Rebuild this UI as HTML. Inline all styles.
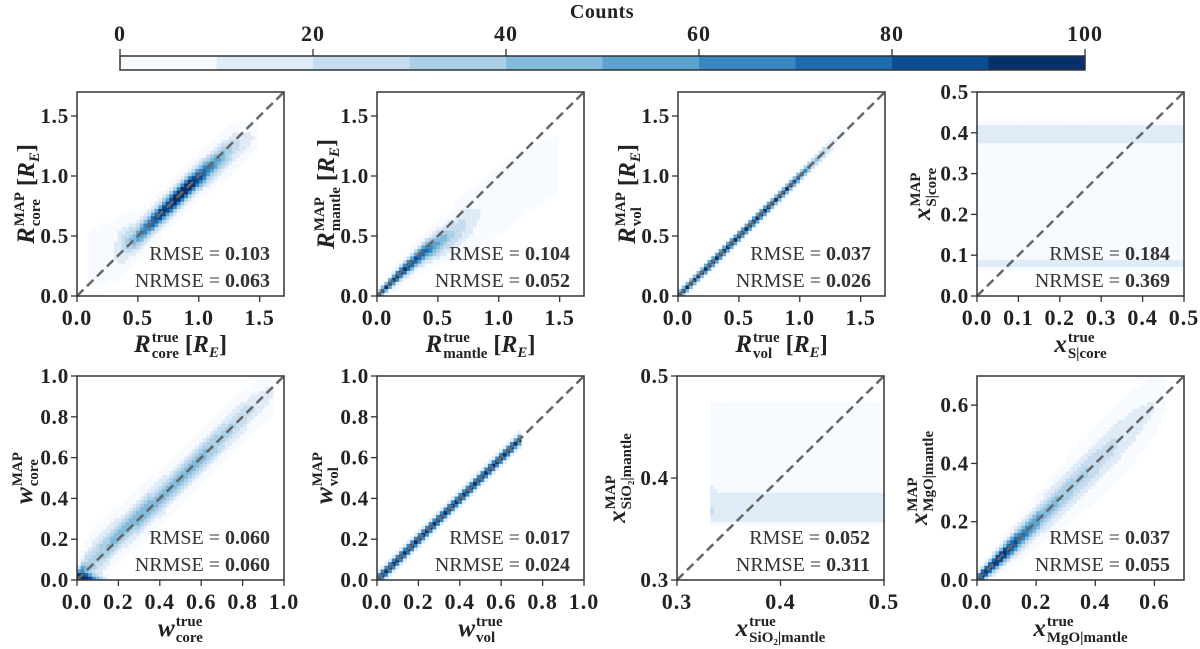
<!DOCTYPE html>
<html><head><meta charset="utf-8"><style>
html,body{margin:0;padding:0;background:#fff;}
svg{display:block;font-family:"Liberation Serif",serif;}
</style></head><body>
<svg id="fig" width="1200" height="649" viewBox="0 0 1200 649" xmlns="http://www.w3.org/2000/svg"></svg>
<script>
// ---------- data ----------
const cbTicks = [0,20,40,60,80,100];
const binColors = ["#f7fbff","#dfebf7","#c8dcf0","#abd0e6","#82bbdb","#5ba3d0","#3787c0","#1c6aaf","#0b4d94","#08306b"];

const p1Xc=[0.1,0.3,0.5,0.7,0.9,1.1,1.3,1.5];
const p1Mu=[0.3,0.38,0.5,0.7,0.9,1.08,1.25,1.35];
const p1Sd=[0.15,0.12,0.07,0.06,0.06,0.07,0.08,0.06];
const p1Pk=[4,8,55,95,110,65,25,5];

const p2Xc=[0.0,0.2,0.4,0.6,0.8,1.0,1.2,1.5];
const p2Mu=[0.0,0.2,0.38,0.5,0.65,0.8,0.95,1.1];
const p2Sd=[0.02,0.035,0.055,0.08,0.12,0.15,0.18,0.2];
const p2Pk=[100,95,75,35,12,6,3,2];

const p3Xc=[0.0,0.3,0.6,0.9,1.1,1.3,1.4];
const p3Mu=[0.0,0.3,0.6,0.9,1.1,1.3,1.4];
const p3Sd=[0.022,0.025,0.025,0.025,0.03,0.035,0.03];
const p3Pk=[110,110,110,100,50,12,2];

const p4Ys=[0.06,0.075,0.09,0.11,0.15,0.25,0.35,0.38,0.40,0.42,0.43];
const p4Ya=[0,12,10,5,4,4,5,12,15,10,0];
const p4Xs=[0.0,0.5];
const p4Xa=[1,1];

const p5Xc=[0.0,0.05,0.1,0.2,0.4,0.6,0.8,0.95];
const p5Mu=[0.01,0.05,0.12,0.22,0.4,0.6,0.8,0.93];
const p5Sd=[0.02,0.06,0.06,0.05,0.05,0.05,0.05,0.05];
const p5Pk=[100,40,35,45,50,45,28,10];
const p5FloorXc=[0.0,0.05,0.1,0.15];
const p5FloorMu=[0.01,0.01,0.01,0.01];
const p5FloorSd=[0.012,0.012,0.012,0.012];
const p5FloorPk=[90,70,40,5];

const p6Xc=[0.0,0.3,0.6,0.69,0.70];
const p6Mu=[0.0,0.3,0.6,0.69,0.70];
const p6Sd=[0.017,0.017,0.017,0.017,0.017];
const p6Pk=[110,110,110,100,40];

const p7Ys=[0.352,0.36,0.37,0.38,0.40,0.44,0.47,0.476];
const p7Ya=[0,15,17,12,6,5,4,0];
const p7Xs=[0.333,0.34,0.4,0.5];
const p7Xa=[1.3,1,1,1];

const p8Xc=[0.0,0.1,0.2,0.3,0.4,0.5,0.6,0.64];
const p8Mu=[0.0,0.1,0.2,0.3,0.4,0.5,0.6,0.64];
const p8Sd=[0.012,0.022,0.032,0.042,0.05,0.055,0.05,0.04];
const p8Pk=[110,95,55,38,28,18,10,0];

const rmseVals=["0.103","0.104","0.037","0.184","0.060","0.017","0.052","0.037"];
const nrmseVals=["0.063","0.052","0.026","0.369","0.060","0.024","0.311","0.055"];

// ---------- helpers ----------
const NS="http://www.w3.org/2000/svg";
const svg=document.getElementById('fig');
function mk(tag,attrs,parent){const e=document.createElementNS(NS,tag);for(const k in attrs)e.setAttribute(k,attrs[k]);(parent||svg).appendChild(e);return e;}
function interp(xs,ys,v){if(v<xs[0]||v>xs[xs.length-1])return null;for(let i=0;i<xs.length-1;i++){if(v>=xs[i]&&v<=xs[i+1]){const t=(v-xs[i])/((xs[i+1]-xs[i])||1);return ys[i]+t*(ys[i+1]-ys[i]);}}return ys[ys.length-1];}

// ---------- colorbar ----------
const cbX0=120,cbX1=1085,cbY=56,cbH=14;
const cbScale=v=>cbX0+(v/100)*(cbX1-cbX0);
const cbG=mk('g',{});


for(let i=0;i<10;i++){
  const r=mk('rect',{x:cbScale(i*10),y:cbY,width:cbScale((i+1)*10)-cbScale(i*10)+0.5,height:cbH,fill:binColors[i]},cbG);
  
  
}
mk('rect',{x:cbX0,y:cbY,width:cbX1-cbX0,height:cbH,fill:'none',stroke:'#333','stroke-width':1.5},cbG);
cbTicks.forEach(t=>{
  const x=cbScale(t);
  mk('line',{x1:x,x2:x,y1:cbY,y2:cbY-7,stroke:'#333','stroke-width':1.3},cbG);
  const tx=mk('text',{x:x,y:41,'text-anchor':'middle','font-size':22,'font-weight':'bold','letter-spacing':1,fill:'#222'},cbG);
  tx.textContent=t;
  
  
});
const cbT=mk('text',{x:602,y:18,'text-anchor':'middle','font-size':20,'font-weight':'bold','letter-spacing':0.5,fill:'#222'});
cbT.textContent='Counts';



// ---------- label builder ----------
function buildLabel(parent,base,sup,sub,suffix){
  const g=mk('g',{},parent);
  const b=mk('text',{x:0,y:0,'font-size':25,'font-weight':'bold','font-style':'italic',fill:'#222'},g);b.textContent=base;
  const w=b.getComputedTextLength();
  const s1=mk('text',{x:w+1,y:-10,'font-size':15,'font-weight':'bold',fill:'#222'},g);s1.textContent=sup;
  const s2=mk('text',{x:w+1,y:6,'font-size':15,'font-weight':'bold',fill:'#222'},g);s2.textContent=sub;
  let tot=w+1+Math.max(s1.getComputedTextLength(),s2.getComputedTextLength());
  if(suffix){
    const sx=tot+6;
    const t=mk('text',{x:sx,y:0,'font-size':24,'font-weight':'bold',fill:'#222'},g);
    const a=document.createElementNS(NS,'tspan');a.textContent='[';t.appendChild(a);
    const r=document.createElementNS(NS,'tspan');r.setAttribute('font-style','italic');r.textContent='R';t.appendChild(r);
    const e=document.createElementNS(NS,'tspan');e.setAttribute('font-size','15');e.setAttribute('font-style','italic');e.setAttribute('dy','5');e.textContent='E';t.appendChild(e);
    const c=document.createElementNS(NS,'tspan');c.setAttribute('dy','-5');c.textContent=']';t.appendChild(c);
    tot=sx+t.getComputedTextLength();
  }
  return {g,w:tot};
}

// ---------- panels ----------
const panels=[
 {name:'r-core',L:77,T:92,min:0,max:1.7,ticks:[0,0.5,1.0,1.5],dec:1,comps:[{t:'d',xc:p1Xc,mu:p1Mu,sd:p1Sd,pk:p1Pk}],base:'R',sub:'core',suf:true,yoff:51},
 {name:'r-mantle',L:377,T:92,min:0,max:1.7,ticks:[0,0.5,1.0,1.5],dec:1,comps:[{t:'d',xc:p2Xc,mu:p2Mu,sd:p2Sd,pk:p2Pk}],base:'R',sub:'mantle',suf:true,yoff:51},
 {name:'r-vol',L:678,T:92,min:0,max:1.7,ticks:[0,0.5,1.0,1.5],dec:1,comps:[{t:'d',xc:p3Xc,mu:p3Mu,sd:p3Sd,pk:p3Pk}],base:'R',sub:'vol',suf:true,yoff:51},
 {name:'x-s-core',L:977,T:92,min:0,max:0.5,ticks:[0,0.1,0.2,0.3,0.4,0.5],dec:1,comps:[{t:'b',ys:p4Ys,ya:p4Ya,xs:p4Xs,xa:p4Xa}],base:'x',sub:'S|core',suf:false,yoff:55},
 {name:'w-core',L:77,T:376,min:0,max:1.0,ticks:[0,0.2,0.4,0.6,0.8,1.0],dec:1,comps:[{t:'d',xc:p5Xc,mu:p5Mu,sd:p5Sd,pk:p5Pk},{t:'d',xc:p5FloorXc,mu:p5FloorMu,sd:p5FloorSd,pk:p5FloorPk}],base:'w',sub:'core',suf:false,yoff:53},
 {name:'w-vol',L:377,T:376,min:0,max:1.0,ticks:[0,0.2,0.4,0.6,0.8,1.0],dec:1,comps:[{t:'d',xc:p6Xc,mu:p6Mu,sd:p6Sd,pk:p6Pk}],base:'w',sub:'vol',suf:false,yoff:53},
 {name:'x-sio2-mantle',L:677,T:376,min:0.3,max:0.5,ticks:[0.3,0.4,0.5],dec:1,comps:[{t:'b',ys:p7Ys,ya:p7Ya,xs:p7Xs,xa:p7Xa}],base:'x',sub:'SiO₂|mantle',suf:false,yoff:60},
 {name:'x-mgo-mantle',L:977,T:376,min:0,max:0.7,ticks:[0,0.2,0.4,0.6],dec:1,comps:[{t:'d',xc:p8Xc,mu:p8Mu,sd:p8Sd,pk:p8Pk}],base:'x',sub:'MgO|mantle',suf:false,yoff:58}
];
const W=207,H=204,N=56;

panels.forEach((p,pi)=>{
  const g=mk('g',{});
  
  
  const sx=v=>p.L+(v-p.min)/(p.max-p.min)*W;
  const sy=v=>p.T+H-(v-p.min)/(p.max-p.min)*H;
  const cid='clip'+pi;
  const cp=mk('clipPath',{id:cid},g);mk('rect',{x:p.L,y:p.T,width:W,height:H},cp);
  const hg=mk('g',{'clip-path':'url(#'+cid+')'},g);
  
  
  const step=(p.max-p.min)/N;
  for(let i=0;i<N;i++){for(let j=0;j<N;j++){
    const x=p.min+(i+0.5)*step, y=p.min+(j+0.5)*step;
    let c=0;
    p.comps.forEach(cm=>{
      if(cm.t==='d'){
        const mu=interp(cm.xc,cm.mu,x); if(mu===null)return;
        const sd=interp(cm.xc,cm.sd,x), pk=interp(cm.xc,cm.pk,x);
        c+=pk*Math.exp(-0.5*Math.pow((y-mu)/sd,2));
      }else{
        const ya=interp(cm.ys,cm.ya,y), xa=interp(cm.xs,cm.xa,x);
        if(ya===null||xa===null)return; c+=ya*xa;
      }
    });
    if(c<1)continue;
    const bin=Math.min(9,Math.floor(c/10));
    const x0=sx(p.min+i*step), x1=sx(p.min+(i+1)*step), y1=sy(p.min+j*step), y0=sy(p.min+(j+1)*step);
    const r=mk('rect',{x:x0,y:y0,width:x1-x0+0.4,height:y1-y0+0.4,fill:binColors[bin]},hg);
    
    
  }}
  const dl=mk('line',{x1:sx(p.min),y1:sy(p.min),x2:sx(p.max),y2:sy(p.max),stroke:'#666','stroke-width':2.5,'stroke-dasharray':'9,5'},g);
  
  
  mk('rect',{x:p.L,y:p.T,width:W,height:H,fill:'none',stroke:'#333','stroke-width':1.5},g);
  p.ticks.forEach(t=>{
    const x=sx(t),y=sy(t);
    mk('line',{x1:x,x2:x,y1:p.T+H,y2:p.T+H+6,stroke:'#333','stroke-width':1.3},g);
    mk('line',{x1:p.L,x2:p.L-6,y1:y,y2:y,stroke:'#333','stroke-width':1.3},g);
    const xt=mk('text',{x:x,y:p.T+H+29,'text-anchor':'middle','font-size':22,'font-weight':'bold','letter-spacing':1,fill:'#222'},g);
    xt.textContent=t.toFixed(p.dec);
    
    
    const yt=mk('text',{x:p.L-8,y:y+7,'text-anchor':'end','font-size':21,'font-weight':'bold','letter-spacing':0.8,fill:'#222'},g);
    yt.textContent=t.toFixed(p.dec);
    
    
  });
  const a1=mk('text',{x:p.L+W-14,y:p.T+H-36,'text-anchor':'end','font-size':20,fill:'#333'},g);
  a1.innerHTML='RMSE = <tspan font-weight="bold">'+rmseVals[pi]+'</tspan>';
  
  
  const a2=mk('text',{x:p.L+W-14,y:p.T+H-9,'text-anchor':'end','font-size':20,fill:'#333'},g);
  a2.innerHTML='NRMSE = <tspan font-weight="bold">'+nrmseVals[pi]+'</tspan>';
  
  
  const xl=buildLabel(g,p.base,'true',p.sub,p.suf);
  xl.g.setAttribute('transform','translate('+(p.L+W/2-xl.w/2)+','+(p.T+H+56)+')');
  
  
  const yl=buildLabel(g,p.base,'MAP',p.sub,p.suf);
  yl.g.setAttribute('transform','translate('+(p.L-p.yoff+8)+','+(p.T+H/2+yl.w/2)+') rotate(-90)');
  
  
});
</script>
</body></html>
